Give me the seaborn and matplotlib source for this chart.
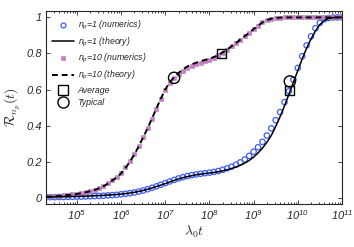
import numpy as np
import pandas as pd
import matplotlib
matplotlib.use("Agg")
import matplotlib.pyplot as plt
import seaborn as sns
from matplotlib.lines import Line2D

# ---------------------------------------------------------------------------
# Data : log10(lambda_0 t) grid, step 0.1 decade
# ---------------------------------------------------------------------------
log_t = np.round(np.arange(4.3, 11.05, 0.1), 1)

# n_p = 1, theory (solid)
theory_np1 = [
    0.004, 0.004, 0.005, 0.005, 0.006, 0.006, 0.007, 0.007, 0.008, 0.009,   # 4.3-5.2
    0.010, 0.011, 0.012, 0.013, 0.015, 0.016, 0.018, 0.020, 0.023, 0.026,   # 5.3-6.2
    0.030, 0.035, 0.040, 0.047, 0.054, 0.062, 0.070, 0.078, 0.087, 0.096,   # 6.3-7.2
    0.104, 0.111, 0.117, 0.122, 0.127, 0.131, 0.134, 0.137, 0.140, 0.144,   # 7.3-8.2
    0.149, 0.155, 0.162, 0.170, 0.180, 0.192, 0.207, 0.225, 0.248, 0.275,   # 8.3-9.2
    0.307, 0.345, 0.395, 0.450, 0.510, 0.575, 0.640, 0.705, 0.770, 0.830,   # 9.3-10.2
    0.880, 0.925, 0.960, 0.983, 0.995, 0.999, 1.000, 1.000,                 # 10.3-11.0
]
# n_p = 1, numerics (open circles)
numerics_np1 = [
    0.003, 0.003, 0.003, 0.004, 0.004, 0.005, 0.005, 0.006, 0.006, 0.007,
    0.008, 0.009, 0.010, 0.011, 0.013, 0.014, 0.016, 0.019, 0.022, 0.025,
    0.029, 0.034, 0.040, 0.047, 0.055, 0.063, 0.072, 0.081, 0.090, 0.099,
    0.107, 0.114, 0.120, 0.125, 0.129, 0.133, 0.136, 0.139, 0.143, 0.148,
    0.155, 0.163, 0.172, 0.183, 0.196, 0.212, 0.232, 0.255, 0.280, 0.310,
    0.345, 0.385, 0.430, 0.475, 0.530, 0.590, 0.655, 0.720, 0.785, 0.845,
    0.895, 0.940, 0.970, 0.990, 0.997, 1.000, 1.000, 1.000,
]
# n_p = 10, theory (dashed)
theory_np10 = [
    0.005, 0.006, 0.008, 0.010, 0.012, 0.015, 0.018, 0.021, 0.025, 0.030,   # 4.3-5.2
    0.036, 0.043, 0.052, 0.063, 0.078, 0.095, 0.113, 0.135, 0.165, 0.200,   # 5.3-6.2
    0.240, 0.285, 0.335, 0.385, 0.440, 0.495, 0.550, 0.600, 0.640, 0.668,   # 6.3-7.2
    0.692, 0.712, 0.728, 0.740, 0.749, 0.757, 0.764, 0.771, 0.780, 0.792,   # 7.3-8.2
    0.806, 0.822, 0.840, 0.858, 0.877, 0.896, 0.915, 0.935, 0.955, 0.972,   # 8.3-9.2
    0.985, 0.993, 0.997, 0.999, 1.000, 1.000, 1.000, 1.000, 1.000, 1.000,   # 9.3-10.2
    1.000, 1.000, 1.000, 1.000, 1.000, 1.000, 1.000, 1.000,                 # 10.3-11.0
]
# n_p = 10, numerics (squares)
numerics_np10 = [
    0.006, 0.007, 0.009, 0.011, 0.013, 0.016, 0.019, 0.022, 0.026, 0.031,
    0.037, 0.045, 0.055, 0.066, 0.081, 0.098, 0.116, 0.139, 0.168, 0.202,
    0.242, 0.286, 0.334, 0.384, 0.438, 0.492, 0.546, 0.596, 0.636, 0.663,
    0.685, 0.704, 0.719, 0.731, 0.740, 0.748, 0.756, 0.765, 0.776, 0.790,
    0.805, 0.822, 0.840, 0.858, 0.877, 0.896, 0.915, 0.935, 0.955, 0.972,
    0.985, 0.993, 0.997, 0.999, 1.000, 1.000, 1.000, 1.000, 1.000, 1.000,
    1.000, 1.000, 1.000, 1.000, 1.000, 1.000, 1.000, 1.000,
]

# Average / typical markers (log10 t, value), first n_p=10 then n_p=1
average_log_t = [8.27, 9.82]
average_val = [0.80, 0.595]
typical_log_t = [7.20, 9.82]
typical_val = [0.665, 0.645]

x_ticks_exp = [5, 6, 7, 8, 9, 10, 11]
y_ticks = [0, 0.2, 0.4, 0.6, 0.8, 1]
y_tick_labels = ["0", "0.2", "0.4", "0.6", "0.8", "1"]

BLUE = "#3a5cff"
PINK = "#d873d8"

# ---------------------------------------------------------------------------
# Style
# ---------------------------------------------------------------------------
sns.set_style("ticks")
plt.rcParams["font.family"] = ["Liberation Sans", "DejaVu Sans"]
plt.rcParams["font.style"] = "italic"
plt.rcParams["mathtext.fontset"] = "custom"
plt.rcParams["mathtext.it"] = "Liberation Sans:italic"
plt.rcParams["mathtext.rm"] = "Liberation Sans:italic"
plt.rcParams["mathtext.cal"] = "cmsy10"

df = pd.DataFrame({
    "t": 10.0 ** log_t,
    "th1": theory_np1,
    "nu1": numerics_np1,
    "th10": theory_np10,
    "nu10": numerics_np10,
})

fig = plt.figure(figsize=(3.54, 2.47), dpi=100)
ax = fig.add_axes([0.130, 0.174, 0.836, 0.781])
ax.set_xscale("log")

# numerics
sns.scatterplot(data=df, x="t", y="nu1", ax=ax, marker="o", s=15,
                facecolor="none", edgecolor=BLUE, linewidth=0.9, zorder=2)
sns.scatterplot(data=df, x="t", y="nu10", ax=ax, marker="s", s=11,
                color=PINK, edgecolor="#909090", linewidth=0.4, zorder=2)
# theory
sns.lineplot(data=df, x="t", y="th1", ax=ax, color="black", lw=1.1, zorder=3)
sns.lineplot(data=df, x="t", y="th10", ax=ax, color="black", lw=1.4,
             linestyle=(0, (3, 2)), zorder=3)

# average / typical
ax.scatter(10.0 ** np.array(average_log_t), average_val, marker="s", s=40,
           facecolor="none", edgecolor="black", linewidth=1.0, zorder=4)
ax.scatter(10.0 ** np.array(typical_log_t), typical_val, marker="o", s=65,
           facecolor="none", edgecolor="black", linewidth=1.0, zorder=4)

ax.set_xlim(2e4, 1e11)
ax.set_ylim(-0.035, 1.035)
ax.set_xticks([10.0 ** k for k in x_ticks_exp])
ax.set_yticks(y_ticks)
ax.set_yticklabels(y_tick_labels)
ax.tick_params(which="both", direction="in", top=True, right=True,
               labelsize=8, width=0.6, pad=3)
ax.tick_params(which="major", length=3)
ax.tick_params(which="minor", length=1.6)
for sp in ax.spines.values():
    sp.set_linewidth(0.8)

ax.set_xlabel(r"$\lambda_0 t$", fontsize=10, math_fontfamily="cm", labelpad=1)
ax.set_ylabel(r"$\mathcal{R}_{n_p}(t)$", fontsize=10, math_fontfamily="cm",
              labelpad=3)

handles = [
    Line2D([], [], ls="none", marker="o", ms=3.5, mfc="none", mec=BLUE, mew=0.9),
    Line2D([], [], color="black", lw=1.1),
    Line2D([], [], ls="none", marker="s", ms=3.2, mfc=PINK, mec="#909090", mew=0.4),
    Line2D([], [], color="black", lw=1.4, ls=(0, (3, 2))),
    Line2D([], [], ls="none", marker="s", ms=6.5, mfc="none", mec="black", mew=1.0),
    Line2D([], [], ls="none", marker="o", ms=8, mfc="none", mec="black", mew=1.0),
]
labels = [
    r"$n_p$=1 (numerics)",
    r"$n_p$=1 (theory)",
    r"$n_p$=10 (numerics)",
    r"$n_p$=10 (theory)",
    "Average",
    "Typical",
]
ax.legend(handles, labels, loc="upper left", bbox_to_anchor=(0.0, 0.99),
          frameon=False, fontsize=6.3, handlelength=2.5, handletextpad=0.4,
          labelspacing=0.4, borderaxespad=0.3)

fig.savefig("out.png", dpi=100)
plt.close(fig)
